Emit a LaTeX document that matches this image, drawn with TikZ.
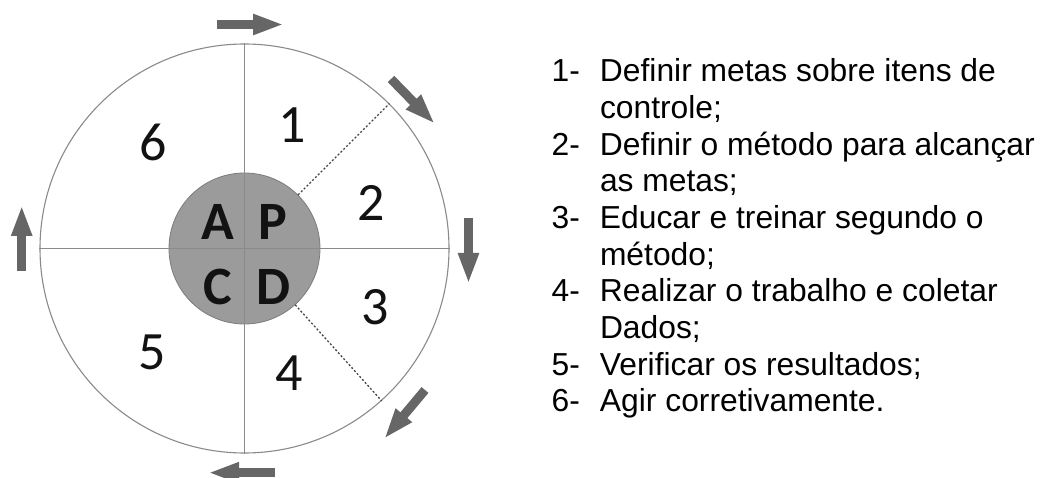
\documentclass[tikz,border=0pt]{standalone}
\usepackage{fontspec}
\setmainfont{Liberation Sans}
\newfontfamily\calibrifont{Carlito}
\usetikzlibrary{arrows.meta}
\definecolor{arrowgray}{HTML}{666666}
\definecolor{linegray}{HTML}{8A8A8A}
\definecolor{fillgray}{HTML}{9B9B9B}
\definecolor{dashgray}{HTML}{444444}
\tikzset{
  cyclearrow/.style={draw=arrowgray, line width=9pt, -{Triangle[length=31pt,width=19pt]}},
  digit/.style={inner sep=0pt, font=\calibrifont\fontsize{54}{54}\selectfont, text=black!93},
  letter/.style={inner sep=0pt, font=\calibrifont\bfseries\fontsize{54}{54}\selectfont, text=black!93},
  divider/.style={draw=linegray, line width=1.4pt},
  dashdiv/.style={draw=dashgray, line width=1.3pt, dash pattern=on 2pt off 2pt},
}
\begin{document}
\begin{tikzpicture}[x=1pt,y=-1pt]
\useasboundingbox (0,0) rectangle (1042,478);
% circles
\node[circle, draw=linegray, line width=1.1pt, minimum size=409pt, inner sep=0pt] (outer) at (244.5,248.5) {};
\node[circle, draw=linegray!90!black, fill=fillgray, line width=0.8pt, minimum size=151pt, inner sep=0pt] (pdca) at (244.5,248.5) {};
% dividers
\draw[divider] (outer.north) -- (outer.south);
\draw[divider] (outer.west) -- (outer.east);
\draw[dashdiv] (pdca.45) -- (outer.45);
\draw[dashdiv] (pdca.-48) -- (outer.-48);
% letters
\node[letter] (A) at (217.5,222) {A};
\node[letter] (P) at (272.5,222) {P};
\node[letter] (C) at (217.5,286.7) {C};
\node[letter] (D) at (273.7,286.7) {D};
% digits
\node[digit] (n1) at (292,125.5) {1};
\node[digit] (n2) at (371,202.5) {2};
\node[digit] (n3) at (375,307) {3};
\node[digit] (n4) at (289,373) {4};
\node[digit] (n5) at (152,352) {5};
\node[digit] (n6) at (153,142) {6};
% arrows
\coordinate (a1s) at (217,24.5);  \coordinate (a1e) at (284,24.5);
\coordinate (a2s) at (391,79);    \coordinate (a2e) at (435,124);
\coordinate (a3s) at (468.5,218); \coordinate (a3e) at (468.5,284);
\coordinate (a4s) at (425,390);   \coordinate (a4e) at (384,439);
\coordinate (a5s) at (275,472.7); \coordinate (a5e) at (208,472.7);
\coordinate (a6s) at (21.7,271);  \coordinate (a6e) at (21.7,205);
\draw[cyclearrow] (a1s) -- (a1e);
\draw[cyclearrow] (a2s) -- (a2e);
\draw[cyclearrow] (a3s) -- (a3e);
\draw[cyclearrow] (a4s) -- (a4e);
\draw[cyclearrow] (a5s) -- (a5e);
\draw[cyclearrow] (a6s) -- (a6e);
% legend
\node[anchor=north west, inner sep=0pt, font=\fontsize{31.8}{36.67}\selectfont] (legend) at (551.5,56) {%
\begin{tabular}{@{}p{48.3pt}@{}l@{}}
1- & Definir metas sobre itens de\\
   & controle;\\
2- & Definir o método para alcançar\\
   & as metas;\\
3- & Educar e treinar segundo o\\
   & método;\\
4- & Realizar o trabalho e coletar\\
   & Dados;\\
5- & Verificar os resultados;\\
6- & Agir corretivamente.
\end{tabular}};
\end{tikzpicture}
\end{document}
